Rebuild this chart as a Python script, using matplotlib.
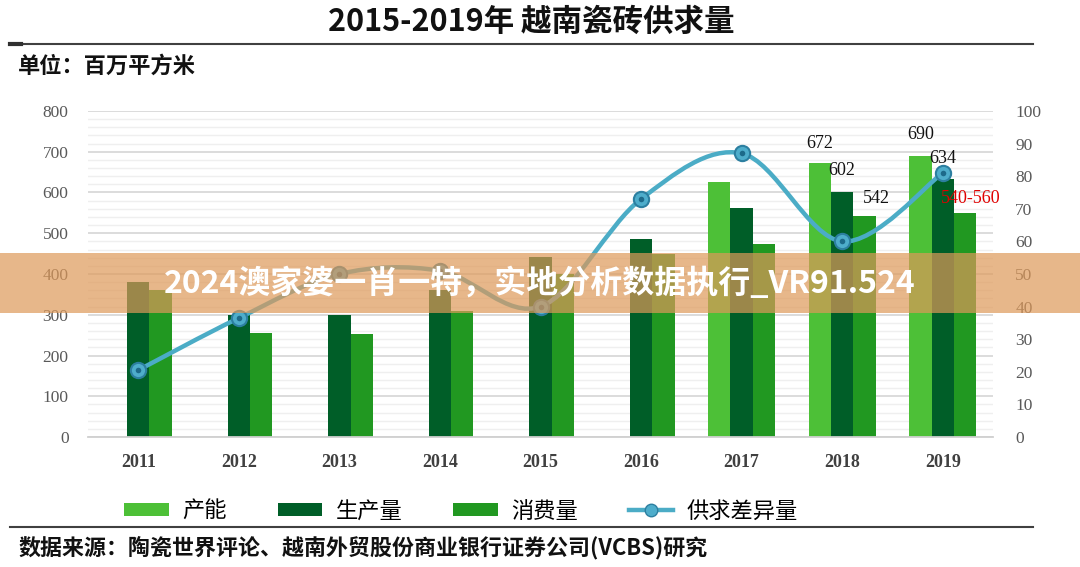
import numpy as np
import matplotlib
matplotlib.use("Agg")
import matplotlib.pyplot as plt
from matplotlib.patches import Patch, Rectangle, PathPatch
from matplotlib.lines import Line2D
from matplotlib.path import Path
from matplotlib.ticker import MultipleLocator

# ─────────────────────────────────────────────────────────────────────────────
# DATA
# ─────────────────────────────────────────────────────────────────────────────

YEARS       = ["2011", "2012", "2013", "2014", "2015", "2016", "2017", "2018", "2019"]
CAPACITY    = [np.nan, np.nan, np.nan, np.nan, np.nan, np.nan, 625, 672, 690]   # 产能
PRODUCTION  = [380, 300, 300, 360, 442, 486, 562, 602, 634]                     # 生产量
CONSUMPTION = [360, 255, 252, 310, 400, 450, 474, 542, 550]                     # 消费量
GAP         = [20.5, 36.5, 50, 51, 40, 73, 87, 60, 81]                          # 供求差异量

SERIES_NAMES = ["产能", "生产量", "消费量", "供求差异量"]
LEFT_TICKS   = [0, 100, 200, 300, 400, 500, 600, 700, 800]
RIGHT_TICKS  = [0, 10, 20, 30, 40, 50, 60, 70, 80, 90, 100]

TITLE   = "2015-2019年 越南瓷砖供求量"
UNIT    = "单位：百万平方米"
SOURCE  = "数据来源：陶瓷世界评论、越南外贸股份商业银行证券公司(VCBS)研究"
BANNER  = "2024澳家婆一肖一特，实地分析数据执行_VR91.524"
RANGE_LABEL_2019 = "540-560"

# ─────────────────────────────────────────────────────────────────────────────
# STYLE
# ─────────────────────────────────────────────────────────────────────────────

C_CAP   = "#4DC037"
C_PROD  = "#005E28"
C_CONS  = "#219821"
C_LINE  = "#4BACC6"
C_TICK  = "#595959"
SERIF   = "Liberation Serif"

plt.rcParams["font.family"] = ["Noto Sans CJK SC", "DejaVu Sans"]

W, H = 1080, 567
fig = plt.figure(figsize=(W / 100, H / 100), dpi=100)
fig.patch.set_facecolor("white")

ax = fig.add_axes([88 / W, 1 - 437 / H, (993 - 88) / W, (437 - 111) / H])
ax2 = ax.twinx()

x = np.arange(len(YEARS))
bw = 0.222

# bars
ax.bar(x - bw, CAPACITY, bw, color=C_CAP, zorder=2)
ax.bar(x, PRODUCTION, bw, color=C_PROD, zorder=2)
ax.bar(x + bw, CONSUMPTION, bw, color=C_CONS, zorder=2)

ax.set_xlim(-0.5, 8.5)
ax.set_ylim(0, 800)
ax.set_yticks(LEFT_TICKS)
ax.yaxis.set_minor_locator(MultipleLocator(20))
ax.grid(which="major", axis="y", color="#D9D9D9", lw=1.3, zorder=0)
ax.grid(which="minor", axis="y", color="#EFEFEF", lw=1.0, zorder=0)
ax.set_axisbelow(True)
ax.set_xticks(x)
ax.set_xticklabels(YEARS, fontfamily=SERIF, fontweight="bold", fontsize=13, color="#404040")
ax.tick_params(axis="x", length=0, pad=12)
ax.tick_params(axis="y", which="both", length=0, pad=14, labelsize=12.5, labelcolor=C_TICK)
for lab in ax.get_yticklabels():
    lab.set_fontfamily(SERIF)
for s in ["top", "right", "left"]:
    ax.spines[s].set_visible(False)
ax.spines["bottom"].set_color("#D0D0D0")
ax.spines["bottom"].set_linewidth(1.3)

# right axis: smooth line (Excel-style bezier through the points)
ax2.set_ylim(0, 100)
ax2.set_yticks(RIGHT_TICKS)
ax2.tick_params(axis="y", length=0, pad=16, labelsize=12.5, labelcolor=C_TICK)
for lab in ax2.get_yticklabels():
    lab.set_fontfamily(SERIF)
for s in ["top", "right", "left", "bottom"]:
    ax2.spines[s].set_visible(False)

pts = np.column_stack([x, GAP]).astype(float)
verts = [pts[0]]
codes = [Path.MOVETO]
n = len(pts)
for i in range(n - 1):
    p0 = pts[max(i - 1, 0)]
    p1 = pts[i]
    p2 = pts[i + 1]
    p3 = pts[min(i + 2, n - 1)]
    verts += [p1 + (p2 - p0) / 6, p2 - (p3 - p1) / 6, p2]
    codes += [Path.CURVE4] * 3
ax2.add_patch(PathPatch(Path(verts, codes), fill=False, edgecolor=C_LINE,
                        lw=3.2, capstyle="round", zorder=3))
ax2.plot(x, GAP, ls="none", marker="o", ms=11, mfc="#4EADCB", mec="#2C7FA0",
         mew=1.5, zorder=4)
ax2.plot(x, GAP, ls="none", marker="o", ms=4, mfc="#1D6A8A", mec="none", zorder=5)

# data labels (2018, 2019)
labels = [
    (7 - bw, CAPACITY[7], f"{CAPACITY[7]:.0f}", (0, 20), "#111111"),
    (7, PRODUCTION[7], f"{PRODUCTION[7]:.0f}", (0, 21), "#111111"),
    (7 + bw, CONSUMPTION[7], f"{CONSUMPTION[7]:.0f}", (12, 18), "#111111"),
    (8 - bw, CAPACITY[8], f"{CAPACITY[8]:.0f}", (0, 21), "#111111"),
    (8, PRODUCTION[8], f"{PRODUCTION[8]:.0f}", (0, 20), "#111111"),
    (8 + bw, CONSUMPTION[8], RANGE_LABEL_2019, (6, 14), "#E00000"),
]
for xi, yi, txt, off, col in labels:
    ax.annotate(txt, (xi, yi), xytext=off, textcoords="offset pixels",
                ha="center", va="center", fontsize=13, fontfamily=SERIF,
                color=col, zorder=6)
ax2.set_zorder(ax.get_zorder() + 1)

# header / footer text and rules
fig.text(531 / W, 1 - 22 / H, TITLE, ha="center", va="center", fontsize=22,
         fontweight="bold", color="#111111")
fig.add_artist(Line2D([10 / W, 1033 / W], [1 - 44 / H] * 2, color="#404040", lw=1.5))
fig.add_artist(Line2D([10 / W, 21 / W], [1 - 44 / H] * 2, color="#303030", lw=3))
fig.text(18 / W, 1 - 66 / H, UNIT, ha="left", va="center", fontsize=16,
         fontweight="bold", color="#111111")
fig.add_artist(Line2D([10 / W, 1033 / W], [1 - 527 / H] * 2, color="#404040", lw=1.5))
fig.text(18 / W, 1 - 549 / H, SOURCE, ha="left", va="center", fontsize=15.8,
         fontweight="bold", color="#111111")

# legend
handles = [
    Patch(facecolor=C_CAP),
    Patch(facecolor=C_PROD),
    Patch(facecolor=C_CONS),
    Line2D([0], [0], color=C_LINE, lw=3.2, marker="o", ms=9, mfc="#4EADCB", mec="#2C7FA0"),
]
fig.legend(handles, SERIES_NAMES, loc="center", bbox_to_anchor=(461 / W, 1 - 511 / H),
           ncol=4, frameon=False, fontsize=16, handlelength=2.0, handleheight=0.55,
           handletextpad=0.6, columnspacing=2.3)

# overlay banner
fig.add_artist(Rectangle((0, 1 - 313 / H), 1, 60 / H, transform=fig.transFigure,
                         facecolor=(0.87, 0.60, 0.35), alpha=0.7, edgecolor="none",
                         zorder=10))
fig.text(540 / W, 1 - 284 / H, BANNER, ha="center", va="center", fontsize=23,
         fontweight="bold", color="white", zorder=11)

fig.savefig("out.png", dpi=100, facecolor="white")
